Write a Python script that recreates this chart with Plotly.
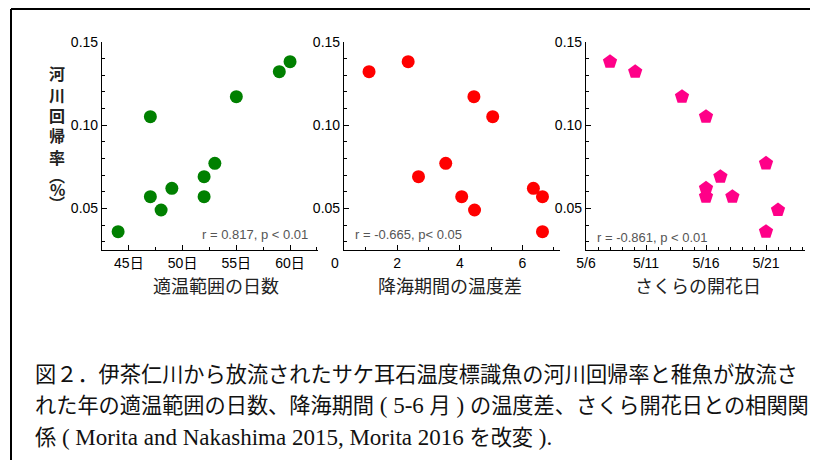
import re
import plotly.graph_objects as go

W, H = 818, 460
OFF = 8  # page body margin of the rendered html

# ---- data ----
return_rate_p1 = [0.036, 0.105, 0.057, 0.049, 0.062, 0.069, 0.057, 0.077, 0.117, 0.132, 0.138]
optimal_days = [44, 47, 47, 48, 49, 52, 52, 53, 55, 59, 60]

return_rate_p2 = [0.132, 0.138, 0.117, 0.105, 0.077, 0.069, 0.057, 0.049, 0.062, 0.057, 0.036]
temp_diff = [1.1, 2.35, 4.45, 5.05, 3.55, 2.68, 4.06, 4.47, 6.35, 6.64, 6.64]

return_rate_p3 = [0.138, 0.132, 0.117, 0.105, 0.077, 0.069, 0.062, 0.057, 0.057, 0.049, 0.036]
bloom_day_may = [8, 10.1, 14, 16, 21, 17.2, 16, 16, 18.2, 22, 21]

p3_tickvals = [6, 11, 16, 21]
p3_ticktext = ["5/6", "5/11", "5/16", "5/21"]
p1_tickvals = [45, 50, 55, 60]
p1_ticktext = ["45日", "50日", "55日", "60日"]
p2_tickvals = [2, 4, 6]
y_tickvals = [0.05, 0.10, 0.15]
y_ticktext = ["0.05", "0.10", "0.15"]

stats = ["r = 0.817, p < 0.01", "r = -0.665, p< 0.05", "r = -0.861, p < 0.01"]
xtitles = ["適温範囲の日数", "降海期間の温度差", "さくらの開花日"]
ytitle_chars = ["河", "川", "回", "帰", "率", "︵", "%", "︶"]
caption_lines = [
    "図２．伊茶仁川から放流されたサケ耳石温度標識魚の河川回帰率と稚魚が放流さ",
    "れた年の適温範囲の日数、降海期間 ( 5-6 月 ) の温度差、さくら開花日との相関関",
    "係 ( Morita and Nakashima 2015, Morita 2016 を改変 ).",
]


def px(x):
    return (x - OFF) / W


def py(y):
    return 1 - (y - OFF) / H


SANS = "Liberation Sans, Noto Sans CJK JP, sans-serif"
CJK = "Noto Sans CJK JP, sans-serif"

fig = go.Figure()
fig.add_trace(go.Scatter(x=optimal_days, y=return_rate_p1, mode="markers",
                         marker=dict(color="#008000", size=13, symbol="circle"),
                         xaxis="x", yaxis="y", showlegend=False, cliponaxis=False))
fig.add_trace(go.Scatter(x=temp_diff, y=return_rate_p2, mode="markers",
                         marker=dict(color="#ff0000", size=13, symbol="circle"),
                         xaxis="x2", yaxis="y2", showlegend=False, cliponaxis=False))
fig.add_trace(go.Scatter(x=bloom_day_may, y=return_rate_p3, mode="markers",
                         marker=dict(color="#ff0088", size=15, symbol="pentagon"),
                         xaxis="x3", yaxis="y3", showlegend=False, cliponaxis=False))

ydom = [py(250), py(41.7)]
xdoms = [[px(102), px(318)], [px(344), px(560)], [px(586), px(805)]]
xranges = [[42.5, 62.6], [0.3, 7.2], [6, 24.25]]

common_axis = dict(showline=True, linecolor="black", linewidth=1.2, showgrid=False,
                   zeroline=False, ticks="inside", ticklen=5, tickcolor="black",
                   automargin=False,
                   tickfont=dict(family=SANS, size=14, color="black"))

xaxis_specs = [
    dict(tickvals=p1_tickvals, ticktext=p1_ticktext,
         minor=dict(dtick=2.5, tick0=0, ticks="inside", ticklen=3, tickcolor="black")),
    dict(tickvals=p2_tickvals,
         minor=dict(dtick=1, tick0=0, ticks="inside", ticklen=3, tickcolor="black")),
    dict(tickvals=p3_tickvals, ticktext=p3_ticktext,
         minor=dict(dtick=1, tick0=0, ticks="inside", ticklen=3, tickcolor="black")),
]

layout = dict(width=W, height=H, margin=dict(l=0, r=0, t=0, b=0, pad=0, autoexpand=False),
              template="none", showlegend=False,
              paper_bgcolor="white", plot_bgcolor="white")
for i in range(3):
    sfx = "" if i == 0 else str(i + 1)
    layout["xaxis" + sfx] = dict(domain=xdoms[i], range=xranges[i], anchor="y" + sfx,
                                 **xaxis_specs[i], **common_axis)
    layout["yaxis" + sfx] = dict(domain=ydom, range=[0.025, 0.15], anchor="x" + sfx,
                                 tickvals=y_tickvals, ticktext=y_ticktext,
                                 minor=dict(dtick=0.01, tick0=0, ticks="inside", ticklen=3,
                                            tickcolor="black"),
                                 **common_axis)
fig.update_layout(**layout)

ann = []
# stats text
stat_pos = [(310, 235, "right"), (353, 235, "left"), (595, 237, "left")]
for (x, y, al), s in zip(stat_pos, stats):
    ann.append(dict(x=px(x), y=py(y), xref="paper", yref="paper", text=s, showarrow=False,
                    xanchor=al, yanchor="middle",
                    font=dict(family=SANS, size=13, color="#555555")))
# x titles
xt_centers = [216, 450, 698]
for cx, t in zip(xt_centers, xtitles):
    ann.append(dict(x=px(cx), y=py(285), xref="paper", yref="paper", text=t, showarrow=False,
                    xanchor="center", yanchor="middle",
                    font=dict(family=CJK, size=18, color="#222222")))
# "0" tick label of the middle panel (just left of its axis start)
ann.append(dict(x=px(335), y=py(263), xref="paper", yref="paper", text="0", showarrow=False,
                xanchor="center", yanchor="middle",
                font=dict(family=SANS, size=14, color="black")))
# vertical y title
yt_pos = [73, 95, 115, 135, 157, 175, 189, 203]
for ch, y in zip(ytitle_chars, yt_pos):
    ann.append(dict(x=px(57), y=py(y), xref="paper", yref="paper", text="<b>" + ch + "</b>",
                    showarrow=False, xanchor="center", yanchor="middle",
                    font=dict(family=CJK, size=16, color="#222222")))


def latin_big(s):
    return re.sub(r"([ -~]+)", lambda m: '<span style="font-size:23px">' + m.group(1) + "</span>", s)


# caption
cap_y = [375, 405, 437]
for line, y in zip(caption_lines, cap_y):
    ann.append(dict(x=px(33), y=py(y), xref="paper", yref="paper", text=latin_big(line),
                    showarrow=False, xanchor="left", yanchor="middle",
                    font=dict(family="Liberation Serif, Noto Sans CJK JP, serif", size=21.2,
                              color="#111111")))
fig.update_layout(annotations=ann)

# frame
fig.add_shape(type="line", xref="paper", yref="paper", x0=px(11), y0=py(9), x1=1, y1=py(9),
              line=dict(color="black", width=2))
fig.add_shape(type="line", xref="paper", yref="paper", x0=px(11), y0=py(9), x1=px(11), y1=0,
              line=dict(color="black", width=2))

fig.write_html("out.html")
